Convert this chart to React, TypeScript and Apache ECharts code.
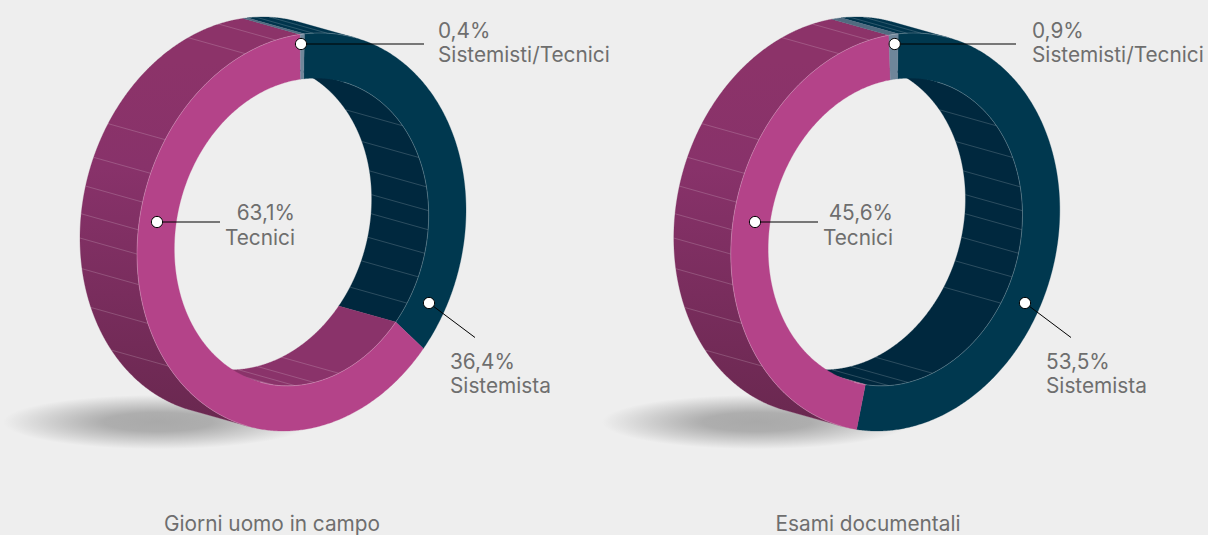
import React, { useEffect, useRef } from "react";
import * as echarts from "echarts";

const sliceNames = ["Sistemista", "Tecnici", "Sistemisti/Tecnici"];
const fieldShares = [36.4, 63.1, 0.4];
const documentShares = [53.5, 45.6, 0.9];
const fieldLabels = ["36,4%", "63,1%", "0,4%"];
const documentLabels = ["53,5%", "45,6%", "0,9%"];
const chartTitles = ["Giorni uomo in campo", "Esami documentali"];
// Angles (degrees clockwise from 12 o'clock) of the thin facet lines on the walls
const outerFacets = [4, 9, 340, 351, 304, 293.5, 285, 277, 270, 261, 249, 234];
const innerFacets = [52.7, 67.4, 79.3, 88.4, 95.5, 104.3, 113.3, 123.9, 163, 174.3, 183, 193, 197];

const FRONT = ["#00384F", "#B44389", "#6F869A"];
const INNER_WALL = ["#00283E", "#8A336A", "#4F6A7F"];
const PINK_OUTER = {
  type: "linear", global: true, x: 0, y: 60, x2: 0, y2: 420,
  colorStops: [
    { offset: 0, color: "#8C3369" },
    { offset: 0.3, color: "#88326A" },
    { offset: 1, color: "#6A2850" },
  ],
};
const OUTER_WALL = [ "#00344C", PINK_OUTER, "#506B80" ];

const START = 1;
const RX = 164.5, RY = 197.8, SHEAR = 0.134, HOLE = 0.773;
const DX = -57, DY = -16;

const rad = (d: number) => (d * Math.PI) / 180;

function proj(cx: number, cy: number, k: number, phi: number, back: boolean): number[] {
  const x = RX * k * Math.sin(rad(phi));
  const y = -RY * k * Math.cos(rad(phi)) - SHEAR * x;
  return [cx + x + (back ? DX : 0), cy + y + (back ? DY : 0)];
}
// sign of the tangent x depth direction: < 0 the outer wall shows, > 0 the inner wall shows
function facing(phi: number): number {
  const tx = RX * Math.cos(rad(phi));
  const ty = RY * Math.sin(rad(phi)) - SHEAR * RX * Math.cos(rad(phi));
  return tx * DY - ty * DX;
}
function sample(a: number, b: number, step = 0.5): number[] {
  const out: number[] = [];
  for (let p = a; p < b; p += step) out.push(p);
  out.push(b);
  return out;
}
function runs(a: number, b: number, test: (v: number) => boolean): number[][] {
  const res: number[][] = [];
  let cur: number[] = [];
  for (const p of sample(a, b, 0.25)) {
    if (test(facing(p))) cur.push(p);
    else if (cur.length) { res.push(cur); cur = []; }
  }
  if (cur.length) res.push(cur);
  return res.filter((r) => r.length > 1);
}

function sliceRange(shares: number[], i: number): number[] {
  const total = shares.reduce((s, v) => s + v, 0);
  const unit = 360 / total;
  let s = START;
  for (let j = 0; j < i; j++) s += shares[j] * unit;
  return [s, s + shares[i] * unit];
}

function wallPoly(cx: number, cy: number, k: number, angles: number[]): number[][] {
  const f = angles.map((p) => proj(cx, cy, k, p, false));
  const b = angles.map((p) => proj(cx, cy, k, p, true)).reverse();
  return f.concat(b);
}

function ringSeries(cx: number, cy: number, shares: number[]) {
  const walls = {
    type: "custom", coordinateSystem: "none", silent: true, z: 2, data: shares,
    renderItem: (params: any) => {
      const i = params.dataIndex;
      const [a, b] = sliceRange(shares, i);
      const children: any[] = [];
      for (const r of runs(a, b, (v) => v < 0)) {
        children.push({
          type: "polygon", shape: { points: wallPoly(cx, cy, 1, r) },
          style: { fill: OUTER_WALL[i], stroke: i === 1 ? "#7A2D5D" : OUTER_WALL[i], lineWidth: 0.3 },
        });
      }
      for (const r of runs(a, b, (v) => v > 0)) {
        children.push({
          type: "polygon", shape: { points: wallPoly(cx, cy, HOLE, r) },
          style: { fill: INNER_WALL[i], stroke: INNER_WALL[i], lineWidth: 0.3 },
        });
      }
      return { type: "group", children };
    },
  };
  const facets = {
    type: "custom", coordinateSystem: "none", silent: true, z: 3,
    data: outerFacets.map((v) => [v, 1]).concat(innerFacets.map((v) => [v, HOLE])),
    renderItem: (_p: any, api: any) => {
      const phi = api.value(0), k = api.value(1);
      const f = proj(cx, cy, k, phi, false), b = proj(cx, cy, k, phi, true);
      return {
        type: "line",
        shape: { x1: f[0], y1: f[1], x2: b[0], y2: b[1] },
        style: { stroke: "rgba(255,255,255,0.22)", lineWidth: 0.8 },
      };
    },
  };
  const fronts = {
    type: "custom", coordinateSystem: "none", silent: true, z: 4, data: shares,
    renderItem: (params: any) => {
      const i = params.dataIndex;
      const [a, b] = sliceRange(shares, i);
      const ang = sample(a, b, 0.5);
      const pts = ang.map((p) => proj(cx, cy, 1, p, false)).concat(
        ang.slice().reverse().map((p) => proj(cx, cy, HOLE, p, false)));
      const children: any[] = [{
        type: "polygon", shape: { points: pts },
        style: { fill: FRONT[i], stroke: FRONT[i], lineWidth: 0.3 },
      }];
      const edge = "rgba(255,255,255,0.34)";
      for (const r of runs(a, b, (v) => v < 0)) {
        children.push({ type: "polyline", shape: { points: r.map((p) => proj(cx, cy, 1, p, false)) }, style: { stroke: edge, fill: null, lineWidth: 0.7 } });
      }
      for (const r of runs(a, b, (v) => v > 0)) {
        children.push({ type: "polyline", shape: { points: r.map((p) => proj(cx, cy, HOLE, p, false)) }, style: { stroke: edge, fill: null, lineWidth: 0.7 } });
      }
      return { type: "group", children };
    },
  };
  return [walls, facets, fronts];
}

const FONT = "Inter";
const INK = "#6E6E6E";

function label(x: number, y: number, text: string, align = "left") {
  return {
    type: "text", x, y, z: 20, silent: true,
    style: { text, fill: INK, font: `400 20.8px ${FONT}`, textAlign: align, textVerticalAlign: "middle" },
  };
}
function leader(x1: number, y1: number, x2: number, y2: number) {
  return { type: "line", z: 20, silent: true, shape: { x1, y1, x2, y2 }, style: { stroke: "#000", lineWidth: 1 } };
}
function dot(x: number, y: number) {
  return { type: "circle", z: 21, silent: true, shape: { cx: x, cy: y, r: 5.6 }, style: { fill: "#fff", stroke: "#000", lineWidth: 1 } };
}
function shadow(x: number, y: number) {
  return {
    type: "circle", z: 0, silent: true, x, y, scaleY: 0.175, shape: { cx: 0, cy: 0, r: 155 },
    style: {
      fill: {
        type: "radial", x: 0.5, y: 0.5, r: 0.5,
        colorStops: [
          { offset: 0, color: "#A9A9A9" },
          { offset: 0.35, color: "#AEAEAE" },
          { offset: 0.7, color: "#D0D0D0" },
          { offset: 1, color: "#EEEEEE" },
        ],
      },
    },
  };
}

type Layout = { shadowX: number; top: number[]; mid: number[]; low: number[]; sysX: number; midX: number; lowX: number; titleX: number };
const leftLayout: Layout = { shadowX: 158, top: [301, 424], mid: [157, 220], low: [429, 303, 475, 337.5], sysX: 438, midX: 295, lowX: 450, titleX: 272 };
const rightLayout: Layout = { shadowX: 757, top: [894.7, 1016], mid: [755, 818], low: [1025, 303, 1071, 337.5], sysX: 1032, midX: 893, lowX: 1046, titleX: 868 };

function annotations(L: Layout, labels: string[], title: string) {
  return [
    shadow(L.shadowX, 422),
    leader(L.top[0], 44, L.top[1], 44),
    leader(L.mid[0], 222, L.mid[1], 222),
    leader(L.low[0], L.low[1], L.low[2], L.low[3]),
    dot(L.top[0], 44), dot(L.mid[0], 222), dot(L.low[0], L.low[1]),
    label(L.sysX, 30, labels[2]),
    label(L.sysX, 54, sliceNames[2]),
    label(L.midX, 212, labels[1], "right"),
    label(L.midX, 237, sliceNames[1], "right"),
    label(L.lowX, 361, labels[0]),
    label(L.lowX, 385, sliceNames[0]),
    label(L.titleX, 523, title, "center"),
  ];
}

export default function App() {
  const ref = useRef<HTMLDivElement>(null);
  useEffect(() => {
    document.body.style.margin = "0";
    document.body.style.background = "#EEEEEE";
    const chart = echarts.init(ref.current!, undefined, { renderer: "svg" });
    chart.setOption({
      animation: false,
      backgroundColor: "#EEEEEE",
      series: [
        ...ringSeries(301.5, 232, fieldShares),
        ...ringSeries(895.3, 232, documentShares),
      ],
      graphic: {
        elements: [
          ...annotations(leftLayout, fieldLabels, chartTitles[0]),
          ...annotations(rightLayout, documentLabels, chartTitles[1]),
        ],
      },
    });
    return () => chart.dispose();
  }, []);
  return <div ref={ref} style={{ width: 1208, height: 535 }} />;
}
